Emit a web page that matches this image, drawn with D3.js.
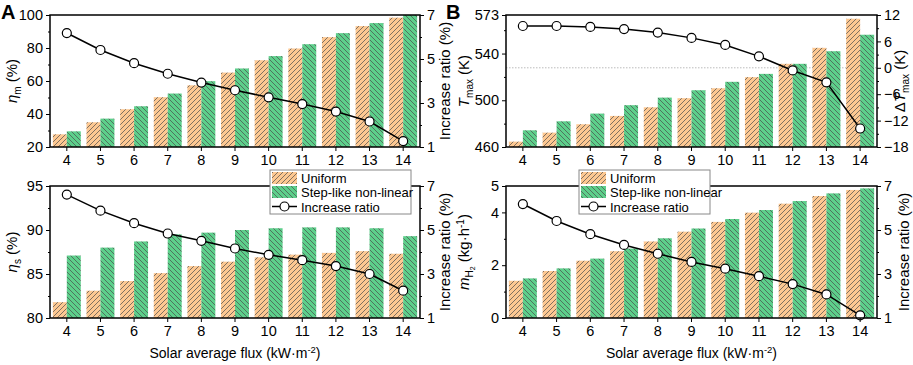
<!DOCTYPE html>
<html>
<head>
<meta charset="utf-8">
<script src="https://cdn.jsdelivr.net/npm/d3@7"></script>
<style>
  body { margin: 0; background: #fff; }
  text { font-family: Arial, "Liberation Sans", sans-serif; fill: #000; }
</style>
</head>
<body>
<div id="chart"></div>
<script>
// ---- data ----
const flux = [4, 5, 6, 7, 8, 9, 10, 11, 12, 13, 14];

// A (top): mass efficiency eta_m (%)
const etaM_uniform = [27.7, 35.0, 42.9, 50.2, 57.4, 65.1, 72.6, 79.7, 86.6, 93.3, 98.4];
const etaM_step    = [29.5, 37.2, 44.7, 52.4, 59.9, 67.6, 75.1, 82.3, 89.0, 95.1, 100.0];
const etaM_ratio   = [6.18, 5.41, 4.81, 4.33, 3.93, 3.58, 3.26, 2.95, 2.61, 2.16, 1.27];

// A (bottom): eta_s (%)
const etaS_uniform = [81.8, 83.1, 84.2, 85.1, 85.9, 86.4, 86.9, 87.2, 87.4, 87.6, 87.3];
const etaS_step    = [87.1, 88.0, 88.7, 89.5, 89.7, 90.0, 90.2, 90.3, 90.3, 90.2, 89.3];
const etaS_ratio   = [6.61, 5.88, 5.31, 4.84, 4.51, 4.16, 3.87, 3.63, 3.36, 3.00, 2.24];

// B (top): T_max (K) and delta T_max (K)
const tMax_uniform = [464.6, 472.3, 479.5, 486.6, 494.0, 501.8, 510.3, 519.8, 531.2, 544.9, 569.8];
const tMax_step    = [474.3, 482.0, 488.6, 495.8, 502.3, 508.6, 515.8, 522.6, 531.2, 542.0, 556.1];
const tMax_delta   = [9.5, 9.5, 9.3, 8.8, 8.0, 6.8, 5.2, 2.6, -0.6, -3.3, -13.8];

// B (bottom): hydrogen production m_H2 (kg/h)
const mH2_uniform = [1.41, 1.78, 2.17, 2.53, 2.90, 3.27, 3.64, 3.99, 4.33, 4.62, 4.85];
const mH2_step    = [1.50, 1.88, 2.25, 2.63, 3.02, 3.39, 3.75, 4.09, 4.43, 4.72, 4.91];
const mH2_ratio   = [6.18, 5.41, 4.81, 4.32, 3.92, 3.55, 3.24, 2.90, 2.54, 2.07, 1.12];

const seriesNames = ["Uniform", "Step-like non-linear", "Increase ratio"];

// ---- svg ----
const W = 913, H = 365;
const svg = d3.select("#chart").append("svg")
    .attr("width", W)
    .attr("height", H);

const orange = "#fdc892";
const green = "#5dcf8b";
const hatchColor = "#4a4a4a";

// hatch patterns
const defs = svg.append("defs");
function hatch(id, fill, dir) {
    const p = defs.append("pattern")
        .attr("id", id)
        .attr("patternUnits", "userSpaceOnUse")
        .attr("width", 5)
        .attr("height", 5);
    p.append("rect").attr("width", 5).attr("height", 5).attr("fill", fill);
    const d = dir === "up"
        ? "M-1,1 L1,-1 M0,5 L5,0 M4,6 L6,4"
        : "M-1,4 L1,6 M0,0 L5,5 M4,-1 L6,1";
    p.append("path").attr("d", d)
        .attr("stroke", hatchColor)
        .attr("stroke-width", 0.7);
}
hatch("hatchU", orange, "up");
hatch("hatchS", green, "down");

const fmt = d3.format("~g");

// draws one panel
function panel(cfg) {
    const g = svg.append("g");
    const x0 = d3.scaleBand()
        .domain(flux)
        .range([cfg.left, cfg.right])
        .paddingInner(0.17)
        .paddingOuter(0.085);
    const x1 = d3.scaleBand()
        .domain(["u", "s"])
        .range([0, x0.bandwidth()]);
    const yL = d3.scaleLinear().domain(cfg.leftDomain).range([cfg.bottom, cfg.top]);
    const yR = d3.scaleLinear().domain(cfg.rightDomain).range([cfg.bottom, cfg.top]);
    const cx = d => x0(d) + x0.bandwidth() / 2;

    // reference line (zero of the right axis)
    if (cfg.zeroLine) {
        g.append("line")
            .attr("x1", cfg.left).attr("x2", cfg.right)
            .attr("y1", yR(0)).attr("y2", yR(0))
            .attr("stroke", "#bbb")
            .attr("stroke-width", 1)
            .attr("stroke-dasharray", "1.5,1.5");
    }

    // bars
    const base = cfg.leftDomain[0];
    flux.forEach((f, i) => {
        g.append("rect")
            .attr("x", x0(f) + x1("u"))
            .attr("y", yL(cfg.uniform[i]))
            .attr("width", x1.bandwidth())
            .attr("height", yL(base) - yL(cfg.uniform[i]))
            .attr("fill", "url(#hatchU)");
        g.append("rect")
            .attr("x", x0(f) + x1("s"))
            .attr("y", yL(cfg.step[i]))
            .attr("width", x1.bandwidth())
            .attr("height", yL(base) - yL(cfg.step[i]))
            .attr("fill", "url(#hatchS)");
    });

    // line + markers
    const line = d3.line()
        .x((d, i) => cx(flux[i]))
        .y(d => yR(d));
    g.append("path")
        .datum(cfg.ratio)
        .attr("d", line)
        .attr("fill", "none")
        .attr("stroke", "#000")
        .attr("stroke-width", 1.5);
    g.selectAll(".pt")
        .data(cfg.ratio)
        .join("circle")
        .attr("cx", (d, i) => cx(flux[i]))
        .attr("cy", d => yR(d))
        .attr("r", 4.5)
        .attr("fill", "#fff")
        .attr("stroke", "#000")
        .attr("stroke-width", 1.2);

    // axes
    const fs = "14.5px";
    const noDomain = a => a.select(".domain").remove();

    g.append("g")
        .attr("transform", `translate(${cfg.left},0)`)
        .call(d3.axisLeft(yL).tickValues(cfg.leftTicks).tickFormat(fmt).tickSize(4).tickPadding(3))
        .call(noDomain)
        .call(a => a.selectAll("text").style("font-size", fs));
    g.append("g")
        .attr("transform", `translate(${cfg.left},0)`)
        .call(d3.axisLeft(yL).tickValues(cfg.leftMinor).tickSize(2).tickFormat(""))
        .call(noDomain);

    g.append("g")
        .attr("transform", `translate(${cfg.right},0)`)
        .call(d3.axisRight(yR).tickValues(cfg.rightTicks).tickFormat(fmt).tickSize(4).tickPadding(3))
        .call(noDomain)
        .call(a => a.selectAll("text").style("font-size", fs));
    g.append("g")
        .attr("transform", `translate(${cfg.right},0)`)
        .call(d3.axisRight(yR).tickValues(cfg.rightMinor).tickSize(2).tickFormat(""))
        .call(noDomain);

    g.append("g")
        .attr("transform", `translate(0,${cfg.bottom})`)
        .call(d3.axisBottom(x0).tickSize(4).tickPadding(4))
        .call(noDomain)
        .call(a => a.selectAll("text").style("font-size", fs));

    // frame
    g.append("rect")
        .attr("x", cfg.left).attr("y", cfg.top)
        .attr("width", cfg.right - cfg.left)
        .attr("height", cfg.bottom - cfg.top)
        .attr("fill", "none")
        .attr("stroke", "#000")
        .attr("stroke-width", 1.5);

    // axis titles
    const midY = (cfg.top + cfg.bottom) / 2;
    const lt = g.append("text")
        .attr("transform", `translate(${cfg.leftTitleX},${midY}) rotate(-90)`)
        .attr("text-anchor", "middle")
        .style("font-size", "15px");
    cfg.leftTitle(lt);
    const rt = g.append("text")
        .attr("transform", `translate(${cfg.rightTitleX},${midY}) rotate(-90)`)
        .attr("text-anchor", "middle")
        .style("font-size", "15px");
    cfg.rightTitle(rt);

    if (cfg.xTitle) {
        const xt = g.append("text")
            .attr("x", (cfg.left + cfg.right) / 2)
            .attr("y", 358)
            .attr("text-anchor", "middle")
            .style("font-size", "14px");
        xt.append("tspan").text("Solar average flux (kW\u00b7m");
        xt.append("tspan").attr("dy", -5).style("font-size", "9.5px").text("-2");
        xt.append("tspan").attr("dy", 5).text(")");
    }

    if (cfg.legend) legend(g, cfg.legend[0], cfg.legend[1], cfg.legend[2]);
}

function legend(g, lx, ly, w) {
    g.append("rect")
        .attr("x", lx).attr("y", ly)
        .attr("width", w).attr("height", 44)
        .attr("fill", "#fff")
        .attr("stroke", "#888")
        .attr("stroke-width", 1);
    const sx = lx + 2, sw = 25;
    g.append("rect").attr("x", sx).attr("y", ly + 2).attr("width", sw).attr("height", 12)
        .attr("fill", "url(#hatchU)");
    g.append("rect").attr("x", sx).attr("y", ly + 16).attr("width", sw).attr("height", 12)
        .attr("fill", "url(#hatchS)");
    g.append("line").attr("x1", sx).attr("x2", sx + sw)
        .attr("y1", ly + 36.5).attr("y2", ly + 36.5)
        .attr("stroke", "#000").attr("stroke-width", 1.5);
    g.append("circle").attr("cx", sx + sw / 2).attr("cy", ly + 36.5).attr("r", 4.5)
        .attr("fill", "#fff").attr("stroke", "#000").attr("stroke-width", 1.2);
    seriesNames.forEach((s, i) => {
        g.append("text")
            .attr("x", sx + sw + 4)
            .attr("y", ly + 12.5 + i * 14.5)
            .style("font-size", "13px")
            .text(s);
    });
}

// title helpers
function sym(t, main, sub, rest) {
    t.append("tspan").style("font-style", "italic").text(main);
    t.append("tspan").attr("dy", 4).style("font-size", "10px").text(sub);
    t.append("tspan").attr("dy", -4).text(rest);
}
function increaseTitle(t) { t.text("Increase ratio (%)"); }

panel({
    left: 50, right: 420, top: 15, bottom: 147,
    leftDomain: [20, 100], leftTicks: [20, 40, 60, 80, 100], leftMinor: [30, 50, 70, 90],
    rightDomain: [1, 7], rightTicks: [1, 3, 5, 7], rightMinor: [2, 4, 6],
    uniform: etaM_uniform, step: etaM_step, ratio: etaM_ratio,
    leftTitleX: 17, rightTitleX: 450,
    leftTitle: t => sym(t, "\u03b7", "m", " (%)"),
    rightTitle: increaseTitle
});

panel({
    left: 50, right: 420, top: 186, bottom: 318,
    leftDomain: [80, 95], leftTicks: [80, 85, 90, 95], leftMinor: [82.5, 87.5, 92.5],
    rightDomain: [1, 7], rightTicks: [1, 3, 5, 7], rightMinor: [2, 4, 6],
    uniform: etaS_uniform, step: etaS_step, ratio: etaS_ratio,
    leftTitleX: 17, rightTitleX: 450,
    leftTitle: t => sym(t, "\u03b7", "s", " (%)"),
    rightTitle: increaseTitle,
    xTitle: true,
    legend: [270, 170, 141]
});

panel({
    left: 506, right: 877, top: 15, bottom: 147,
    leftDomain: [460, 573], leftTicks: [460, 500, 540, 573], leftMinor: [480, 520, 560],
    rightDomain: [-18, 12], rightTicks: [-18, -12, -6, 0, 6, 12], rightMinor: [-15, -9, -3, 3, 9],
    uniform: tMax_uniform, step: tMax_step, ratio: tMax_delta,
    zeroLine: true,
    leftTitleX: 469, rightTitleX: 905,
    leftTitle: t => sym(t, "T", "max", " (K)"),
    rightTitle: t => {
        t.append("tspan").text("\u0394");
        sym(t, "T", "max", " (K)");
    }
});

panel({
    left: 506, right: 877, top: 186, bottom: 318,
    leftDomain: [0, 5], leftTicks: [0, 2, 4, 5], leftMinor: [1, 3],
    rightDomain: [1, 7], rightTicks: [1, 3, 5, 7], rightMinor: [2, 4, 6],
    uniform: mH2_uniform, step: mH2_step, ratio: mH2_ratio,
    leftTitleX: 469, rightTitleX: 909,
    leftTitle: t => {
        t.append("tspan").style("font-style", "italic").text("m");
        t.append("tspan").attr("dy", 4).style("font-size", "10px").text("H");
        t.append("tspan").attr("dy", 2).style("font-size", "7px").text("2");
        t.append("tspan").attr("dy", -6).text(" (kg\u00b7h");
        t.append("tspan").attr("dy", -5).style("font-size", "10px").text("-1");
        t.append("tspan").attr("dy", 5).text(")");
    },
    rightTitle: increaseTitle,
    xTitle: true,
    legend: [579, 170, 131]
});

// panel letters
svg.append("text").attr("x", 1).attr("y", 19)
    .style("font-size", "20px").style("font-weight", "bold").text("A");
svg.append("text").attr("x", 446).attr("y", 19)
    .style("font-size", "20px").style("font-weight", "bold").text("B");
</script>
</body>
</html>
